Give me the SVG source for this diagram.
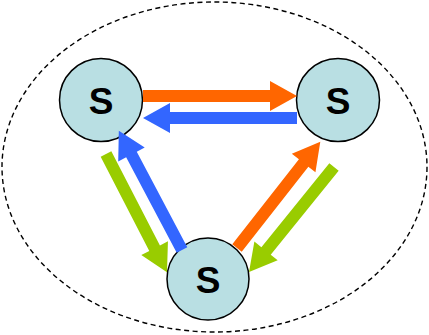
<svg xmlns="http://www.w3.org/2000/svg" width="429" height="335" viewBox="0 0 429 335">
<style>
.node circle{fill:#B9DFE3;stroke:#000;stroke-width:1.5}
.node text{font-family:"Liberation Sans",Arial,sans-serif;font-size:37px;font-weight:bold;text-anchor:middle;fill:#000}
.or{fill:#FF6600}.bl{fill:#3366FF}.gr{fill:#99CC00}
</style>
<rect width="429" height="335" fill="#fff"/>
<ellipse cx="214.5" cy="167" rx="212.5" ry="165" fill="none" stroke="#000" stroke-width="1.4" stroke-dasharray="5,3.5"/>
<g id="n1" class="node"><circle cx="101" cy="100" r="41.5"/><text x="101" y="114">S</text></g>
<g id="n2" class="node"><circle cx="338" cy="100" r="41.5"/><text x="338" y="114">S</text></g>
<g id="n3" class="node"><circle cx="208" cy="279" r="41"/><text x="208" y="293">S</text></g>
<g id="connectors">
<polygon class="or" transform="translate(143,96)" points="0,-6 127,-6 127,-15 154,0 127,15 127,6 0,6"/>
<polygon class="bl" transform="translate(297,118) rotate(180)" points="0,-6 127,-6 127,-15 154,0 127,15 127,6 0,6"/>
<polygon class="bl" transform="translate(182,250) rotate(-117.9)" points="0,-6 108,-6 108,-15 135,0 108,15 108,6 0,6"/>
<polygon class="gr" transform="translate(106,154) rotate(62.7)" points="0,-6 106,-6 106,-15 133,0 106,15 106,6 0,6"/>
<polygon class="or" transform="translate(237,248) rotate(-51.9)" points="0,-6 108,-6 108,-15 135,0 108,15 108,6 0,6"/>
<polygon class="gr" transform="translate(334,167) rotate(129)" points="0,-6 108,-6 108,-15 135,0 108,15 108,6 0,6"/>
</g>
</svg>
